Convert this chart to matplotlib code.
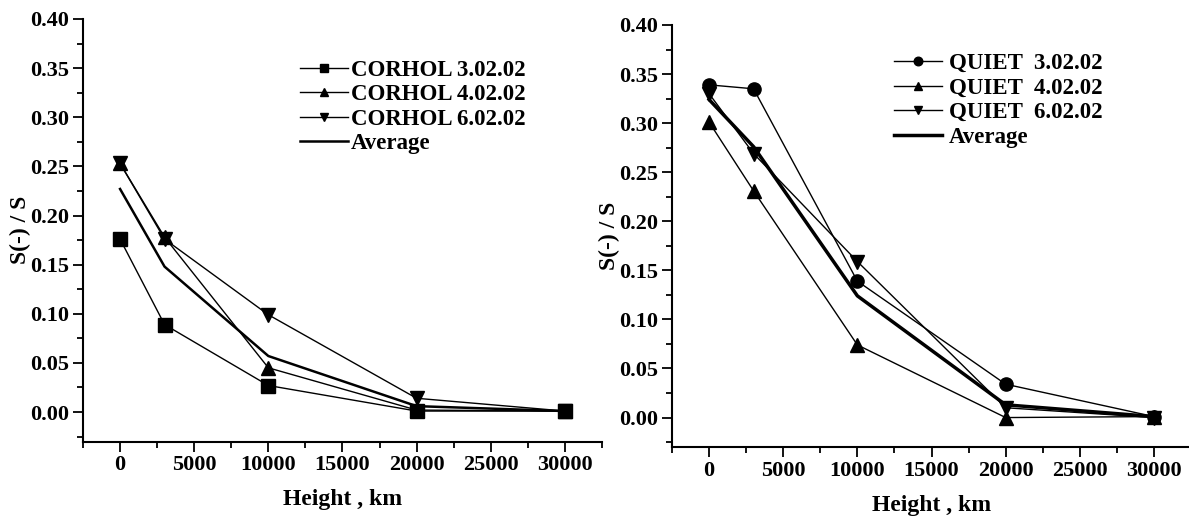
import matplotlib
matplotlib.use("Agg")
import matplotlib.pyplot as plt
from matplotlib.ticker import MultipleLocator

plt.rcParams['font.family'] = ['Liberation Serif', 'DejaVu Serif']
plt.rcParams['font.weight'] = 'bold'

heights = [0, 3000, 10000, 20000, 30000]

corhol_labels = ["CORHOL 3.02.02", "CORHOL 4.02.02", "CORHOL 6.02.02", "Average"]
corhol_3 = [0.176, 0.089, 0.027, 0.001, 0.001]
corhol_4 = [0.253, 0.178, 0.045, 0.002, 0.001]
corhol_6 = [0.253, 0.176, 0.099, 0.014, 0.001]
corhol_avg = [0.227, 0.148, 0.057, 0.006, 0.001]

quiet_labels = ["QUIET  3.02.02", "QUIET  4.02.02", "QUIET  6.02.02", "Average"]
quiet_3 = [0.339, 0.335, 0.139, 0.034, 0.001]
quiet_4 = [0.301, 0.231, 0.074, 0.000, 0.001]
quiet_6 = [0.330, 0.269, 0.159, 0.010, 0.000]
quiet_avg = [0.324, 0.276, 0.124, 0.013, 0.001]

fig = plt.figure(figsize=(11.89, 5.23), dpi=100)
ax1 = fig.add_axes([0.0698, 0.1558, 0.4365, 0.8079])
ax2 = fig.add_axes([0.5652, 0.1453, 0.4365, 0.8069])


def style(ax):
    ax.set_xlim(-2500, 32500)
    ax.set_ylim(-0.03, 0.40)
    for s in ['top', 'right']:
        ax.spines[s].set_visible(False)
    for s in ['left', 'bottom']:
        ax.spines[s].set_linewidth(1.5)
    ax.xaxis.set_major_locator(MultipleLocator(5000))
    ax.xaxis.set_minor_locator(MultipleLocator(2500))
    ax.yaxis.set_major_locator(MultipleLocator(0.05))
    ax.yaxis.set_minor_locator(MultipleLocator(0.025))
    ax.tick_params(which='major', direction='out', length=7, width=1.3, labelsize=16, pad=3)
    ax.tick_params(which='minor', direction='out', length=4, width=1.3)
    ax.yaxis.set_major_formatter(matplotlib.ticker.FormatStrFormatter('%.2f'))
    for lab in ax.get_xticklabels() + ax.get_yticklabels():
        lab.set_fontweight('bold')
    ax.set_xlabel('Height , km', fontsize=17, fontweight='bold', labelpad=10)
    ax.set_ylabel('S(-) / S', fontsize=17, fontweight='bold', labelpad=-1)


ms = 9.5
ax1.plot(heights, corhol_3, color='black', lw=1.0, marker='s', ms=ms, label=corhol_labels[0])
ax1.plot(heights, corhol_4, color='black', lw=1.0, marker='^', ms=ms, label=corhol_labels[1])
ax1.plot(heights, corhol_6, color='black', lw=1.0, marker='v', ms=ms, label=corhol_labels[2])
ax1.plot(heights, corhol_avg, color='black', lw=1.8, label=corhol_labels[3])
style(ax1)
leg1 = ax1.legend(loc='upper left', bbox_to_anchor=(0.40, 0.925), frameon=False,
                  fontsize=16.5, handlelength=2.1, handletextpad=0.12, labelspacing=0.15,
                  borderaxespad=0, markerscale=0.65)

ax2.plot(heights, quiet_3, color='black', lw=1.0, marker='o', ms=ms, label=quiet_labels[0])
ax2.plot(heights, quiet_4, color='black', lw=1.0, marker='^', ms=ms, label=quiet_labels[1])
ax2.plot(heights, quiet_6, color='black', lw=1.0, marker='v', ms=ms, label=quiet_labels[2])
ax2.plot(heights, quiet_avg, color='black', lw=2.5, label=quiet_labels[3])
style(ax2)
leg2 = ax2.legend(loc='upper left', bbox_to_anchor=(0.41, 0.955), frameon=False,
                  fontsize=16.5, handlelength=2.1, handletextpad=0.3, labelspacing=0.15,
                  borderaxespad=0, markerscale=0.65)

fig.savefig('out.png', dpi=100)
